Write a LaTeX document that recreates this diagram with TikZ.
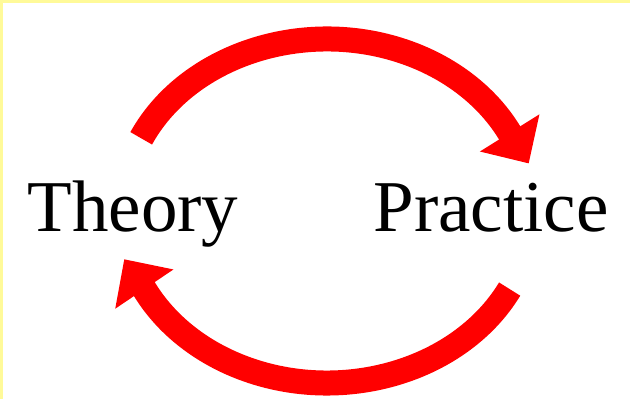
\documentclass[tikz,border=0pt]{standalone}
\usepackage{fontspec}
\setmainfont{Liberation Serif}
\usetikzlibrary{arrows.meta,calc}
\tikzset{word/.style={anchor=base, inner sep=0pt, font=\fontsize{73}{80}\selectfont}}
\tikzset{flow/.style={draw, color=red, line width=25pt, -{Triangle[length=36pt,width=68pt]}}}
\tikzset{frame/.style={fill=yellow!40}}

\begin{document}
\begin{tikzpicture}[x=1pt,y=1pt]
\useasboundingbox (0,0) rectangle (630,399);
\fill[frame] (0,396) rectangle (630,399);
\fill[frame] (0,0) rectangle (3,399);

\node[word] (theory) at (133,167) {Theory};
\node[word] (practice) at (491,167) {Practice};
\coordinate (hub) at (327,188);

%THEORY TO PRACTICE
\path[flow] ($(hub)+(155:205 and 172)$) arc[start angle=155, end angle=27, x radius=205, y radius=172] -- ++(-58:36);

%PRACTICE TO THEORY
\path[flow] ($(hub)+(-27:205 and 172)$) arc[start angle=-27, end angle=-153, x radius=205, y radius=172] -- ++(124:36);

\end{tikzpicture}
\end{document}
